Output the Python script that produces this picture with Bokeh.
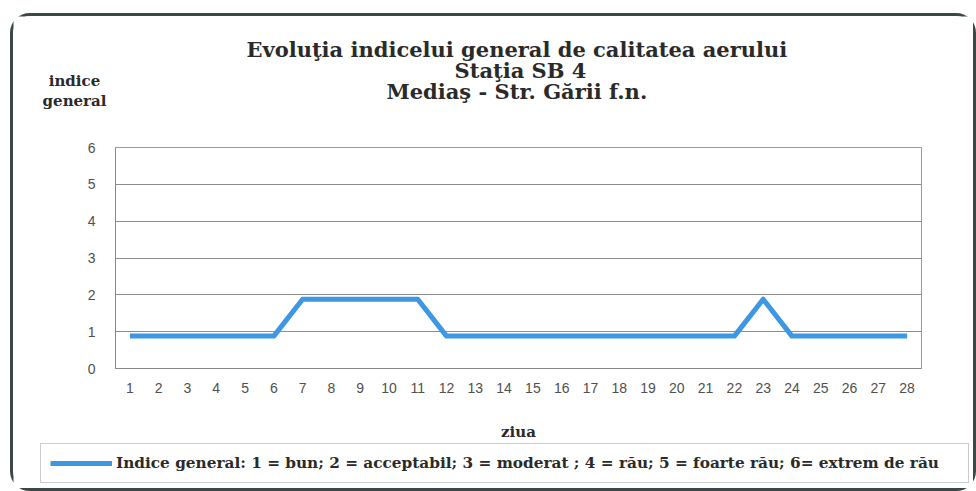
from bokeh.plotting import figure
from bokeh.layouts import column
from bokeh.models import Label, Legend, LegendItem, FixedTicker, Range1d
from bokeh.core.properties import value
from bokeh.embed import file_html
from bokeh.resources import INLINE

days = [1, 2, 3, 4, 5, 6, 7, 8, 9, 10, 11, 12, 13, 14, 15, 16, 17, 18, 19, 20,
        21, 22, 23, 24, 25, 26, 27, 28]
indice = [0.88, 0.88, 0.88, 0.88, 0.88, 0.88, 1.88, 1.88, 1.88, 1.88, 1.88, 0.88,
          0.88, 0.88, 0.88, 0.88, 0.88, 0.88, 0.88, 0.88, 0.88, 0.88, 1.88, 0.88,
          0.88, 0.88, 0.88, 0.88]
y_ticks = [0, 1, 2, 3, 4, 5, 6]
title_lines = ["Evoluţia  indicelui general de calitatea aerului",
               "Staţia SB 4",
               "Mediaş - Str. Gării  f.n."]
y_label_lines = ["indice", "general"]
x_label = "ziua"
legend_text = "Indice general: 1 = bun; 2 = acceptabil; 3 = moderat ; 4 = rău; 5 = foarte rău; 6= extrem de rău"

serif = "DejaVu Serif"
LINE_COLOR = "#3d97e3"
TEXT_COLOR = "#2a2a2a"
W = 960


def bare(height, y0=0):
    f = figure(width=W, height=height, output_backend="svg", toolbar_location=None,
               x_range=Range1d(0, W), y_range=Range1d(y0, y0 + height),
               min_border=0, x_axis_type=None, y_axis_type=None)
    f.frame_align = False
    f.outline_line_color = None
    f.grid.visible = False
    return f


# ---- top: titles and y-axis caption ----
top = bare(104)
for i, t in enumerate(title_lines):
    top.add_layout(Label(x=507, y=71 - 21 * i, x_units="screen", y_units="screen",
                         text=t, text_align="center", text_baseline="middle",
                         text_font=serif, text_font_style="bold", text_font_size="21px",
                         text_color=TEXT_COLOR))
for i, t in enumerate(y_label_lines):
    top.add_layout(Label(x=61, y=40 - 20 * i, x_units="screen", y_units="screen",
                         text=t, text_align="center", text_baseline="middle",
                         text_font=serif, text_font_style="bold", text_font_size="15px",
                         text_color=TEXT_COLOR))

# ---- main chart ----
p = figure(width=W, height=323, output_backend="svg", toolbar_location=None,
           x_range=Range1d(0.5, 28.5), y_range=Range1d(0, 6),
           min_border_left=102, min_border_right=52, min_border_top=27,
           min_border_bottom=75)
p.frame_align = False
line = p.line(days, indice, line_color=LINE_COLOR, line_width=5, line_join="round")

p.xaxis.ticker = FixedTicker(ticks=days)
p.yaxis.ticker = FixedTicker(ticks=y_ticks)
for ax in (p.xaxis[0], p.yaxis[0]):
    ax.major_tick_line_color = None
    ax.minor_tick_line_color = None
    ax.major_tick_out = 0
    ax.major_tick_in = 0
    ax.minor_tick_out = 0
    ax.axis_line_color = "#888888"
    ax.major_label_text_font = "Liberation Sans"
    ax.major_label_text_font_size = "14px"
    ax.major_label_text_color = "#505050"
p.xaxis.major_label_standoff = 14
p.yaxis.major_label_standoff = 20
p.xaxis.axis_label = x_label
p.xaxis.axis_label_text_font = serif
p.xaxis.axis_label_text_font_style = "bold"
p.xaxis.axis_label_text_font_size = "15px"
p.xaxis.axis_label_text_color = TEXT_COLOR
p.xaxis.axis_label_standoff = 27
p.xgrid.grid_line_color = None
p.ygrid.grid_line_color = "#8c8c8c"
p.ygrid.grid_line_width = 1
p.outline_line_color = "#9a9a9a"

# ---- bottom: legend (the series is kept out of this strip's view) ----
bottom = bare(45, y0=10)
sample = bottom.line(days, indice, line_color=LINE_COLOR, line_width=5)
legend = Legend(items=[LegendItem(label=value(legend_text), renderers=[sample])],
                location=(27, 5), orientation="horizontal",
                label_text_font=serif, label_text_font_style="bold",
                label_text_font_size="15.3px", label_text_color=TEXT_COLOR,
                glyph_width=62, glyph_height=20, label_standoff=4, padding=9,
                margin=0, border_line_color="#9a9a9a", background_fill_alpha=1,
                label_width=843)
bottom.add_layout(legend, "center")

layout = column(top, p, bottom, spacing=0)
layout.styles = {"margin-left": "10px", "margin-top": "13px",
                 "border": "3px solid #3b4847", "border-radius": "20px"}

open("out.html", "w").write(file_html(layout, INLINE))
